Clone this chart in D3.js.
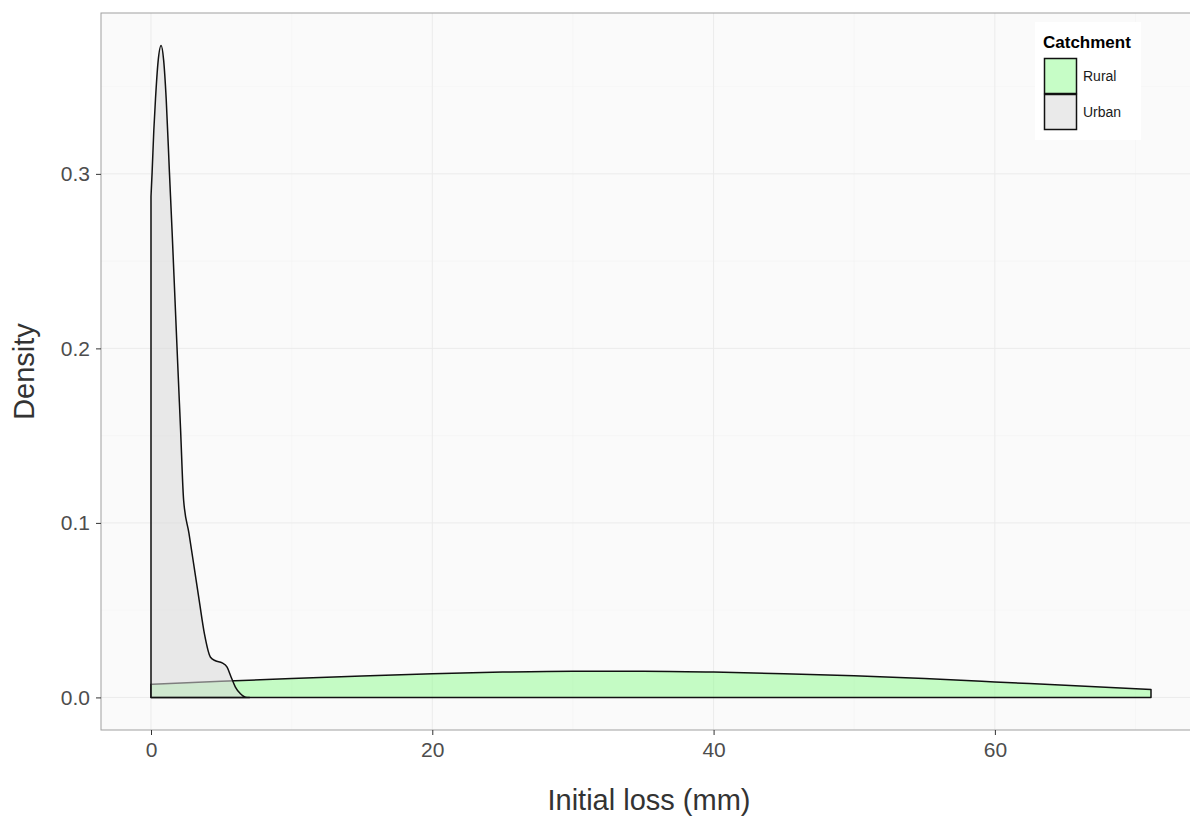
<!DOCTYPE html>
<html>
<head>
<meta charset="utf-8">
<script src="https://cdn.jsdelivr.net/npm/d3@7/dist/d3.min.js"></script>
<style>
  html, body { margin: 0; padding: 0; background: #ffffff; }
  svg { display: block; font-family: "Liberation Sans", Arial, sans-serif; }
</style>
</head>
<body>
<svg id="chart" width="1190" height="820"></svg>
<script>
// ---- data ----
const categories = ["Rural", "Urban"];
const fills = ["#98fb98", "#d9d9d9"];

const ruralX = [0, 5, 10, 15, 20, 25, 30, 35, 40, 45, 50, 55, 60, 65, 71.1];
const ruralY = [0.0075, 0.0092, 0.0108, 0.0123, 0.0136, 0.0145, 0.0150, 0.0150, 0.0145, 0.0136, 0.0124, 0.0108, 0.0089, 0.0069, 0.0046];

const urbanX = [0, 0.08, 0.2, 0.32, 0.5, 0.72, 0.9, 1.08, 1.31, 1.5, 1.7, 1.9, 2.1, 2.32, 2.7, 3.07, 3.43, 3.8, 4.23, 4.58, 5.06, 5.41, 5.7, 6.0, 6.36, 6.83, 7.0];
const urbanY = [0.287, 0.301, 0.325, 0.343, 0.364, 0.3735, 0.365, 0.343, 0.301, 0.267, 0.229, 0.191, 0.154, 0.113, 0.094, 0.0745, 0.0554, 0.0364, 0.023, 0.021, 0.0198, 0.0173, 0.0116, 0.0059, 0.0021, 0.0, 0.0];

const xTicks = [0, 20, 40, 60];
const yTicks = [0, 0.1, 0.2, 0.3];
const xTitle = "Initial loss (mm)";
const yTitle = "Density";
const legendTitle = "Catchment";

// ---- layout ----
const svg = d3.select("#chart");
const P = { left: 101, right: 1201, top: 13, bottom: 730 };

const series = [
  { name: categories[0], fill: fills[0], pts: ruralX.map((x, i) => [x, ruralY[i]]) },
  { name: categories[1], fill: fills[1], pts: urbanX.map((x, i) => [x, urbanY[i]]) }
];

const allX = ruralX.concat(urbanX), allY = ruralY.concat(urbanY);
const xMin = d3.min(allX), xMax = d3.max(allX);
const yMin = 0, yMax = d3.max(allY);
const xe = (xMax - xMin) * 0.05, ye = (yMax - yMin) * 0.05;

const x = d3.scaleLinear().domain([xMin - xe, xMax + xe]).range([P.left, P.right]);
const y = d3.scaleLinear().domain([yMin - ye, yMax + ye]).range([P.bottom, P.top]);

// panel background
svg.append("rect").attr("x", P.left).attr("y", P.top)
  .attr("width", P.right - P.left).attr("height", P.bottom - P.top)
  .attr("fill", "#fafafa");

// minor gridlines
const xMinor = [10, 30, 50, 70];
const yMinor = [0.05, 0.15, 0.25, 0.35];
svg.append("g").selectAll("line").data(xMinor).join("line")
  .attr("x1", d => x(d)).attr("x2", d => x(d)).attr("y1", P.top).attr("y2", P.bottom)
  .attr("stroke", "#f3f3f3").attr("stroke-width", 0.6);
svg.append("g").selectAll("line").data(yMinor).join("line")
  .attr("y1", d => y(d)).attr("y2", d => y(d)).attr("x1", P.left).attr("x2", P.right)
  .attr("stroke", "#f3f3f3").attr("stroke-width", 0.6);
// major gridlines
svg.append("g").selectAll("line").data(xTicks).join("line")
  .attr("x1", d => x(d)).attr("x2", d => x(d)).attr("y1", P.top).attr("y2", P.bottom)
  .attr("stroke", "#ebebeb").attr("stroke-width", 1);
svg.append("g").selectAll("line").data(yTicks).join("line")
  .attr("y1", d => y(d)).attr("y2", d => y(d)).attr("x1", P.left).attr("x2", P.right)
  .attr("stroke", "#ebebeb").attr("stroke-width", 1);

// density polygons
svg.append("clipPath").attr("id", "pclip").append("rect")
  .attr("x", P.left).attr("y", P.top).attr("width", P.right - P.left).attr("height", P.bottom - P.top);

const g = svg.append("g").attr("clip-path", "url(#pclip)");
series.forEach(s => {
  const pts = s.pts;
  const line = d3.line().x(d => x(d[0])).y(d => y(d[1])).curve(d3.curveMonotoneX);
  const top = line(pts);
  const path = `M${x(pts[0][0])},${y(0)}L${x(pts[0][0])},${y(pts[0][1])}` + top.replace(/^M[^LC]*/, "") +
    `L${x(pts[pts.length - 1][0])},${y(0)}Z`;
  g.append("path").attr("d", path)
    .attr("fill", s.fill).attr("fill-opacity", 0.55)
    .attr("stroke", "#111111").attr("stroke-width", 1.5).attr("stroke-linejoin", "round");
});

// panel border
svg.append("rect").attr("x", P.left).attr("y", P.top)
  .attr("width", P.right - P.left).attr("height", P.bottom - P.top)
  .attr("fill", "none").attr("stroke", "#a0a0a0").attr("stroke-width", 1);

// axes
const xAxis = svg.append("g").attr("transform", `translate(0,${P.bottom})`)
  .call(d3.axisBottom(x).tickValues(xTicks).tickFormat(d3.format("d")).tickSize(5).tickPadding(7));
const yAxis = svg.append("g").attr("transform", `translate(${P.left},0)`)
  .call(d3.axisLeft(y).tickValues(yTicks).tickFormat(d3.format(".1f")).tickSize(5).tickPadding(6));
[xAxis, yAxis].forEach(a => {
  a.select(".domain").remove();
  a.selectAll(".tick line").attr("stroke", "#333333").attr("stroke-width", 1);
  a.selectAll(".tick text").attr("fill", "#4d4d4d").style("font-size", "21px")
    .style("font-family", "'Liberation Sans', Arial, sans-serif");
});

// axis titles
svg.append("text").attr("x", (P.left + P.right) / 2 - 2).attr("y", 810)
  .attr("text-anchor", "middle").attr("fill", "#333333").style("font-size", "29px").text(xTitle);
svg.append("text").attr("transform", `translate(34,${(P.top + P.bottom) / 2}) rotate(-90)`)
  .attr("text-anchor", "middle").attr("fill", "#333333").style("font-size", "29px").text(yTitle);

// legend
const L = svg.append("g");
L.append("rect").attr("x", 1035).attr("y", 22).attr("width", 106).attr("height", 118).attr("fill", "#ffffff");
L.append("text").attr("x", 1043).attr("y", 48).style("font-size", "17px").style("font-weight", "bold")
  .attr("fill", "#000").text(legendTitle);
series.forEach((s, i) => {
  const y0 = 58 + i * 36;
  L.append("rect").attr("x", 1044.5).attr("y", y0 + 0.5).attr("width", 32).attr("height", 35)
    .attr("fill", s.fill).attr("fill-opacity", 0.55).attr("stroke", "#111111").attr("stroke-width", 1.5);
  L.append("text").attr("x", 1083).attr("y", y0 + 18).attr("dy", "0.35em")
    .style("font-size", "14px").attr("fill", "#1a1a1a").text(s.name);
});
</script>
</body>
</html>
